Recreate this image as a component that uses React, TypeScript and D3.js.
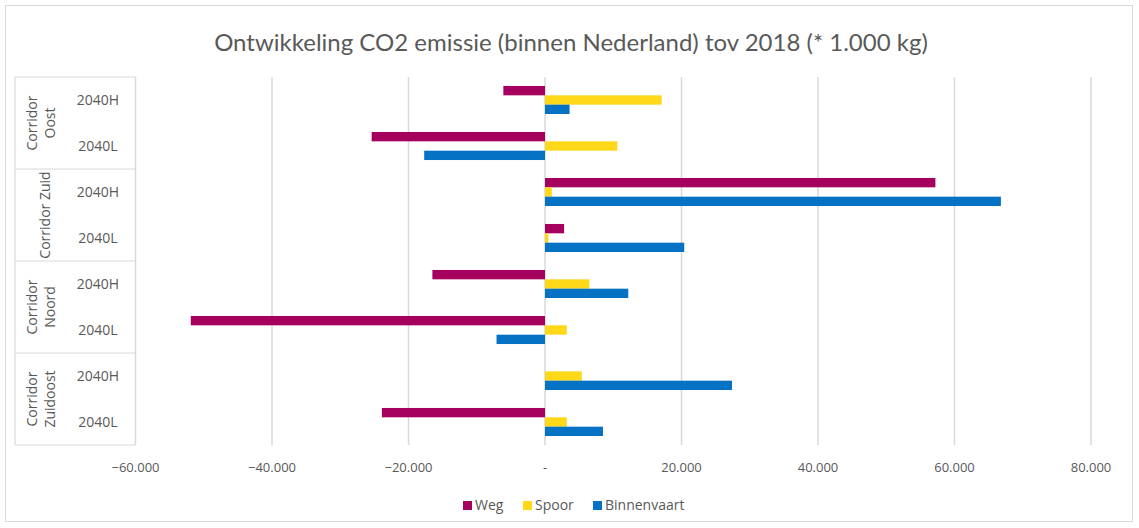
import React from "react";
import * as d3 from "d3";

const groups = ["Corridor Oost", "Corridor Zuid", "Corridor Noord", "Corridor Zuidoost"];
const groupLines = [["Corridor", "Oost"], ["Corridor Zuid"], ["Corridor", "Noord"], ["Corridor", "Zuidoost"]];
const scenarios = ["2040H", "2040L"];
const seriesNames = ["Weg", "Spoor", "Binnenvaart"];
const seriesColors = ["#A6005F", "#FFD81A", "#0572C4"];
// order: Oost H, Oost L, Zuid H, Zuid L, Noord H, Noord L, Zuidoost H, Zuidoost L
const weg = [-6100, -25400, 57200, 2800, -16500, -51900, 0, -23900];
const spoor = [17100, 10600, 1000, 500, 6500, 3200, 5400, 3200];
const binnenvaart = [3600, -17700, 66800, 20400, 12200, -7100, 27400, 8500];
const xTicks = [-60000, -40000, -20000, 0, 20000, 40000, 60000, 80000];

const W = 1139, H = 528;
const plotLeft = 135.5, plotRight = 1091, plotTop = 77, plotBottom = 445;
const FONT = "'Open Sans', 'Noto Sans', sans-serif";
const GRAY = "#595959";

export default function App() {
  const rows = groups.flatMap((g, gi) => scenarios.map((s) => ({ key: `${gi}-${s}`, g, s })));
  const x = d3.scaleLinear().domain([-60000, 80000]).range([plotLeft, plotRight]);
  const y = d3.scaleBand<string>().domain(rows.map((r) => r.key)).range([plotTop, plotBottom]).paddingInner(0.39).paddingOuter(0.195);
  const inner = d3.scaleBand<string>().domain(seriesNames).range([0, y.bandwidth()]);
  const seriesVals = [weg, spoor, binnenvaart];
  const fmt = (v: number) => (v === 0 ? "-" : d3.format(",")(v).replace(/,/g, "."));
  const groupH = (plotBottom - plotTop) / groups.length;

  return (
    <div style={{ position: "fixed", left: 0, top: 0 }}>
      <svg width={W} height={H} style={{ display: "block", background: "#fff" }}>
        <rect x={5.5} y={5.5} width={1127} height={516} fill="#fff" stroke="#D9D9D9" strokeWidth={1} />
        <text x={571} y={51} textAnchor="middle" fontFamily="Lato, 'Open Sans', sans-serif" fontSize={24} fill={GRAY}>
          Ontwikkeling CO2 emissie (binnen Nederland) tov 2018 (* 1.000 kg)
        </text>
        {/* gridlines */}
        {xTicks.map((t) => (
          <line key={t} x1={x(t)} x2={x(t)} y1={plotTop} y2={plotBottom} stroke="#D9D9D9" strokeWidth={1.5} />
        ))}
        {/* category table */}
        <line x1={15} x2={15} y1={plotTop} y2={plotBottom} stroke="#D9D9D9" strokeWidth={1.2} />
        {d3.range(groups.length + 1).map((i) => (
          <line key={i} x1={15} x2={plotLeft} y1={plotTop + i * groupH} y2={plotTop + i * groupH} stroke="#D9D9D9" strokeWidth={1.2} />
        ))}
        {/* bars */}
        {seriesVals.map((vals, si) =>
          rows.map((r, ri) => {
            const v = vals[ri];
            const y0 = (y(r.key) as number) + (inner(seriesNames[si]) as number);
            return (
              <rect key={`${si}-${ri}`} x={Math.min(x(0), x(v))} y={y0} width={Math.abs(x(v) - x(0))} height={inner.bandwidth()} fill={seriesColors[si]} />
            );
          })
        )}
        {/* sub labels */}
        {rows.map((r) => (
          <text key={r.key} x={98} y={(y(r.key) as number) + y.bandwidth() / 2} dy="0.35em" textAnchor="middle" fontFamily={FONT} fontSize={14} fill={GRAY}>
            {r.s}
          </text>
        ))}
        {/* group labels */}
        {groupLines.map((lines, gi) => {
          const cy = plotTop + (gi + 0.5) * groupH;
          const xs = lines.length === 1 ? [45] : [32, 50];
          return lines.map((ln, li) => (
            <text key={`${gi}-${li}`} transform={`translate(${xs[li]},${cy}) rotate(-90)`} dy="0.35em" textAnchor="middle" fontFamily={FONT} fontSize={14} fill={GRAY}>
              {ln}
            </text>
          ));
        })}
        {/* x tick labels */}
        {xTicks.map((t) => (
          <text key={t} x={x(t)} y={467} dy="0.35em" textAnchor="middle" fontFamily={FONT} fontSize={13} fill={GRAY}>
            {fmt(t)}
          </text>
        ))}
        {/* legend */}
        {seriesNames.map((n, i) => {
          const lx = [463, 523, 593][i];
          return (
            <g key={n}>
              <rect x={lx} y={501} width={9} height={9} fill={seriesColors[i]} />
              <text x={lx + 12} y={505.5} dy="0.35em" fontFamily={FONT} fontSize={14} fill={GRAY}>
                {n}
              </text>
            </g>
          );
        })}
      </svg>
    </div>
  );
}
